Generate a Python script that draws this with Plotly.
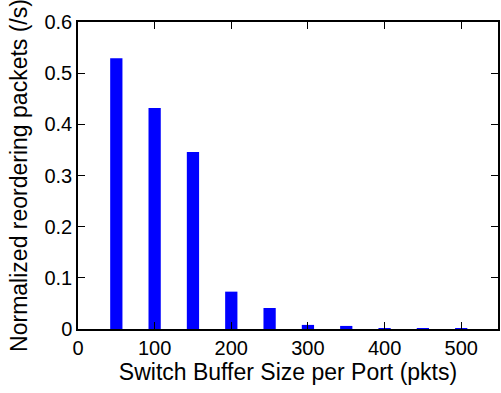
import plotly.graph_objects as go

# Switch buffer size per port (pkts) and normalized reordering rate (/s)
buffer_sizes = [50, 100, 150, 200, 250, 300, 350, 400, 450, 500]
reorder_rate = [0.529, 0.432, 0.346, 0.073, 0.041, 0.008, 0.006, 0.001, 0.001, 0.001]

x_ticks = [0, 100, 200, 300, 400, 500]
y_ticks = [0, 0.1, 0.2, 0.3, 0.4, 0.5, 0.6]

FONT = "Liberation Sans, Arial, Helvetica, sans-serif"

fig = go.Figure(
    go.Bar(
        x=buffer_sizes,
        y=reorder_rate,
        width=16,
        marker=dict(color="#0000ff", line=dict(width=0)),
    )
)

axis_common = dict(
    showline=True,
    linecolor="black",
    linewidth=1.5,
    mirror="allticks",
    ticks="inside",
    ticklen=7,
    tickwidth=1.2,
    tickcolor="black",
    showgrid=False,
    zeroline=False,
    tickfont=dict(family=FONT, size=20, color="black"),
)

fig.update_layout(
    width=501,
    height=393,
    margin=dict(l=78, r=1, t=22, b=64),
    paper_bgcolor="white",
    plot_bgcolor="white",
    showlegend=False,
    font=dict(family=FONT, color="black"),
    xaxis=dict(
        range=[0, 548],
        tickvals=x_ticks,
        title=dict(text="Switch Buffer Size per Port (pkts)", font=dict(size=23), standoff=6),
        **axis_common,
    ),
    yaxis=dict(
        range=[0, 0.6],
        tickvals=y_ticks,
        ticktext=["0", "0.1", "0.2", "0.3", "0.4", "0.5", "0.6"],
        title=dict(text="Normalized reordering packets (/s)", font=dict(size=23), standoff=10),
        **axis_common,
    ),
)

fig.write_html("out.html")
